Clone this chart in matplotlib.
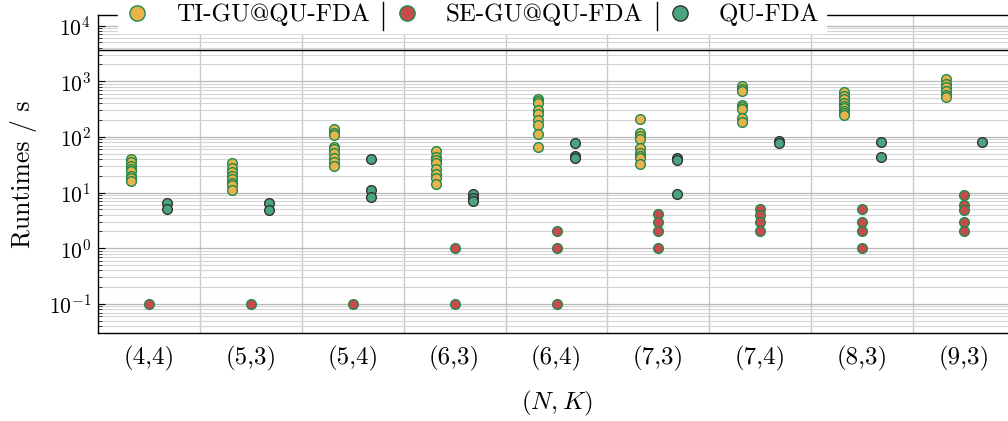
import matplotlib
matplotlib.use("Agg")
import matplotlib.pyplot as plt
from matplotlib.lines import Line2D
from matplotlib.ticker import LogLocator, NullFormatter
import numpy as np

plt.rcParams['font.family'] = 'serif'
plt.rcParams['font.serif'] = ['cmr10']
plt.rcParams['mathtext.fontset'] = 'cm'
plt.rcParams['axes.formatter.use_mathtext'] = True
plt.rcParams['axes.unicode_minus'] = False

categories = ["(4,4)", "(5,3)", "(5,4)", "(6,3)", "(6,4)", "(7,3)", "(7,4)", "(8,3)", "(9,3)"]

ti_gu = [
    [40, 35, 30, 26, 24, 20, 18, 16],
    [34, 28, 23, 20, 17.6, 15, 13.7, 10.9],
    [137, 120, 108, 67, 60, 52, 41, 35, 30],
    [56, 44, 38, 34, 27, 22, 18, 14],
    [475, 440, 403, 305, 260, 202, 164, 113, 65],
    [208, 120, 105, 91, 63, 52, 45, 41, 33],
    [824, 740, 678, 376, 340, 314, 216, 188],
    [631, 552, 475, 403, 360, 327, 290, 273, 248],
    [1100, 890, 780, 680, 567, 516],
]
se_gu = [
    [0.1],
    [0.1],
    [0.1],
    [1.0, 0.1],
    [2.0, 1.0, 0.1],
    [4.1, 3.0, 2.0, 1.0],
    [5.0, 4.0, 2.9, 2.0],
    [5.0, 2.9, 2.0, 1.0],
    [9.1, 6.0, 4.9, 2.9, 2.0],
]
qu_fda = [
    [6.6, 5.0],
    [6.5, 4.9],
    [40, 10.9, 8.5],
    [9.4, 8.0, 7.0],
    [79, 46, 41],
    [41, 38, 9.5],
    [85, 77],
    [80, 43],
    [82],
]
timeout = 3600
series_labels = ["TI-GU@QU-FDA", "SE-GU@QU-FDA", "QU-FDA"]

c_orange = "#E9B24B"
c_red = "#C84A4A"
c_green = "#4AA57F"
e_green = "#1E8A4E"
e_dark = "#333333"

W, H = 1008, 421
fig = plt.figure(figsize=(W / 100, H / 100), dpi=100)
ax = fig.add_axes([98 / W, 1 - 333 / H, (1015 - 98) / W, (333 - 15) / H])

ax.set_yscale('log')
ax.set_ylim(0.030, 15500)
ax.set_xlim(-0.5, len(categories) - 0.5)

offsets = [-0.18, 0.0, 0.18]
styles = [(c_orange, e_green), (c_red, e_green), (c_green, e_dark)]
ms = 7.0
for si, data in enumerate([ti_gu, se_gu, qu_fda]):
    fc, ec = styles[si]
    for ci, vals in enumerate(data):
        xs = np.full(len(vals), ci + offsets[si])
        ax.plot(xs, vals, linestyle='none', marker='o', markersize=ms,
                markerfacecolor=fc, markeredgecolor=ec, markeredgewidth=1.0, zorder=4)

ax.axhline(timeout, color='black', lw=1.0, zorder=3)

# grids
ax.yaxis.set_major_locator(LogLocator(base=10, numticks=20))
ax.yaxis.set_minor_locator(LogLocator(base=10, subs=np.arange(2, 10), numticks=20))
ax.yaxis.set_minor_formatter(NullFormatter())
ax.grid(True, which='major', axis='y', color='#b8b8b8', lw=0.9, zorder=0)
ax.grid(True, which='minor', axis='y', color='#d4d4d4', lw=0.8, zorder=0)
for b in np.arange(0.5, len(categories) - 0.5, 1.0):
    ax.axvline(b, color='#c8c8c8', lw=1.0, zorder=0)

ax.set_xticks(range(len(categories)))
ax.set_xticklabels(categories)
ax.tick_params(axis='x', length=0, pad=9, labelsize=18)
ax.tick_params(axis='y', which='major', direction='in', length=5, width=0.8,
               right=True, labelsize=15.5, pad=5)
ax.tick_params(axis='y', which='minor', direction='in', length=3, width=0.5, right=True)
for s in ax.spines.values():
    s.set_linewidth(1.0)
    s.set_color('black')

ax.set_ylabel("Runtimes / s", fontsize=18.5, labelpad=8)
ax.set_xlabel("$(N,K)$", fontsize=18, labelpad=13)

handles = [Line2D([], [], linestyle='none', marker='o', markersize=11,
                  markerfacecolor=fc, markeredgecolor=ec, markeredgewidth=1.0)
           for fc, ec in styles]
leg = ax.legend(handles, series_labels, ncol=3, loc='center',
                bbox_to_anchor=(472 / W, 1 - 15 / H), bbox_transform=fig.transFigure,
                frameon=True, fancybox=False, facecolor='white', edgecolor='white',
                framealpha=1.0, fontsize=18, handlelength=1.0, handletextpad=1.04,
                columnspacing=1.0, borderpad=0.25, borderaxespad=0)
leg.set_zorder(10)

for xp in [383, 657]:
    fig.add_artist(Line2D([xp / W, xp / W], [1 - 2 / H, 1 - 30 / H],
                          color='black', lw=1.0, zorder=11))

fig.savefig("out.png", dpi=100)
